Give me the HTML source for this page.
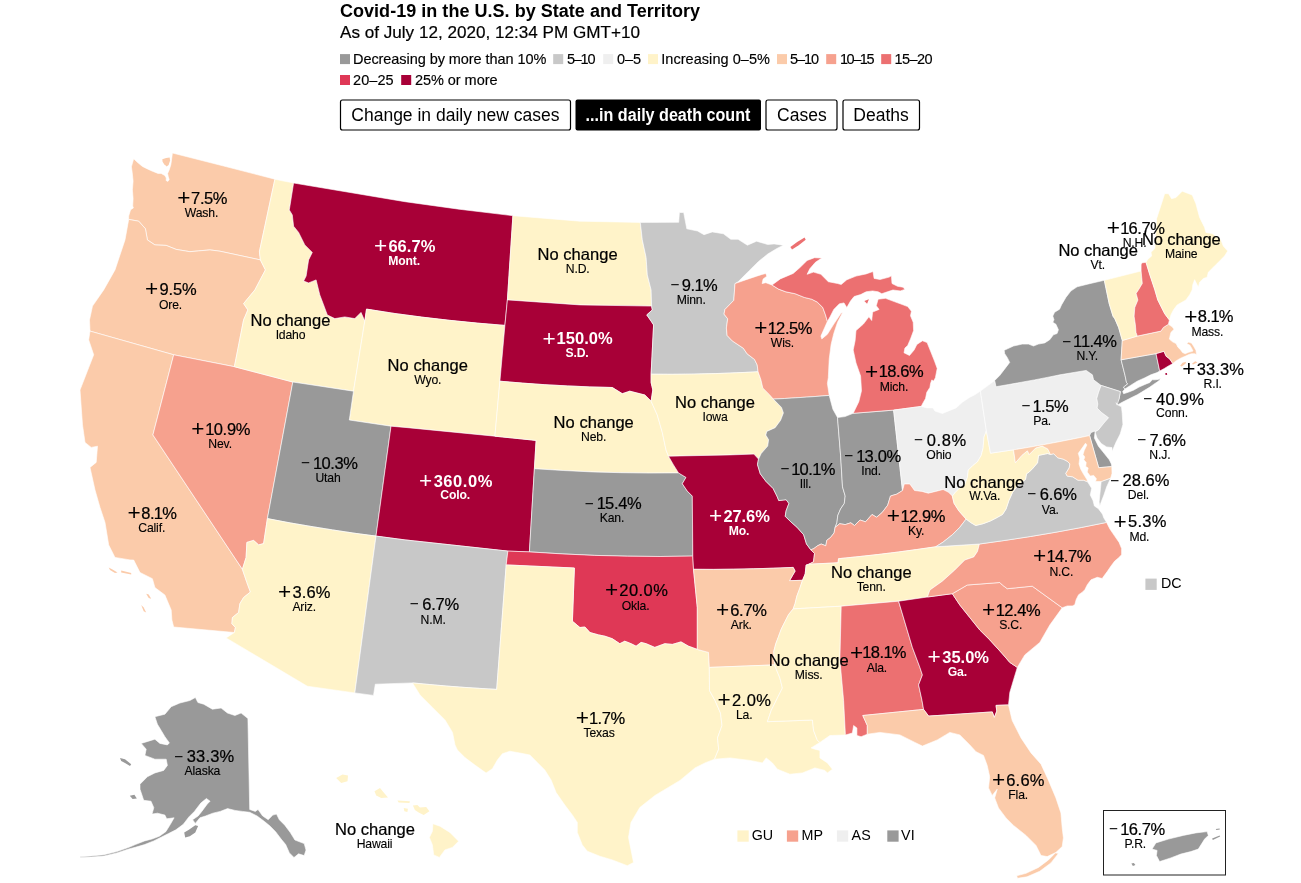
<!DOCTYPE html>
<html lang="en"><head><meta charset="utf-8"><title>Covid-19 in the U.S. by State and Territory</title>
<style>
html,body{margin:0;padding:0;background:#fff}
body{width:1301px;height:883px;position:relative;overflow:hidden}
svg{position:absolute;left:0;top:0;display:block}
text{font-family:"Liberation Sans",Arial,Helvetica,sans-serif;fill:#000}
.s{stroke:#fff;stroke-width:.6;stroke-linejoin:round}
.v{font-size:16.5px;stroke:#000;stroke-width:.22px}
.n{font-size:12.2px;letter-spacing:-.15px;stroke:#000;stroke-width:.12px}
.t{font-size:14.3px}
.w{fill:#fff;stroke:#fff}
.b{font-weight:700;stroke:none}
.sp{font-size:22.6px;stroke:none;font-weight:400}
.sm{font-size:15.4px;stroke:none;font-weight:400}
.h1{font-size:18px;font-weight:700}
.h2{font-size:17.1px;stroke:#000;stroke-width:.2px}
.lg{font-size:14.5px;stroke:#000;stroke-width:.15px}
.bt{font-size:17.5px}
.br{fill:#fff;stroke:#000;stroke-width:1.2}
</style></head><body>
<svg width="1301" height="883" viewBox="0 0 1301 883">
<g id="header">
<text class="h1" x="340" y="16.6" textLength="360" lengthAdjust="spacing">Covid-19 in the U.S. by State and Territory</text>
<text class="h2" x="340" y="38" textLength="300" lengthAdjust="spacing">As of July 12, 2020, 12:34 PM GMT+10</text>
<rect x="340.0" y="54.1" width="10" height="10" fill="#999999"/>
<text class="lg" x="353.0" y="63.8" textLength="193.3" lengthAdjust="spacing">Decreasing by more than 10%</text>
<rect x="553.2" y="54.1" width="10" height="10" fill="#c8c8c8"/>
<text class="lg" x="567.0" y="63.8" textLength="28.5" lengthAdjust="spacing">5–10</text>
<rect x="603.2" y="54.1" width="10" height="10" fill="#efefef"/>
<text class="lg" x="617.0" y="63.8" textLength="24.2" lengthAdjust="spacing">0–5</text>
<rect x="648.0" y="54.1" width="10" height="10" fill="#fff3c9"/>
<text class="lg" x="661.2" y="63.8" textLength="108.8" lengthAdjust="spacing">Increasing 0–5%</text>
<rect x="777.0" y="54.1" width="10" height="10" fill="#fbcbaa"/>
<text class="lg" x="790.0" y="63.8" textLength="29.2" lengthAdjust="spacing">5–10</text>
<rect x="826.2" y="54.1" width="10" height="10" fill="#f6a18e"/>
<text class="lg" x="840.0" y="63.8" textLength="34.5" lengthAdjust="spacing">10–15</text>
<rect x="881.2" y="54.1" width="10" height="10" fill="#ec7071"/>
<text class="lg" x="894.5" y="63.8" textLength="38.0" lengthAdjust="spacing">15–20</text>
<rect x="340.0" y="75.0" width="10" height="10" fill="#df3856"/>
<text class="lg" x="353.0" y="84.7" textLength="40.7" lengthAdjust="spacing">20–25</text>
<rect x="401.2" y="75.0" width="10" height="10" fill="#a80037"/>
<text class="lg" x="415.0" y="84.7" textLength="82.5" lengthAdjust="spacing">25% or more</text>
<rect class="br" x="340.5" y="100" width="230" height="30" rx="2"/>
<text class="bt" x="351.3" y="120.5" textLength="208.2" lengthAdjust="spacing">Change in daily new cases</text>
<rect x="575.5" y="99.5" width="185.5" height="31" rx="2" fill="#000"/>
<text class="bt b w" x="585.6" y="120.5" textLength="164.8" lengthAdjust="spacingAndGlyphs" style="stroke:none">...in daily death count</text>
<rect class="br" x="766" y="100" width="71" height="30" rx="2"/>
<text class="bt" x="777" y="120.5" textLength="49.8" lengthAdjust="spacing">Cases</text>
<rect class="br" x="843" y="100" width="76.5" height="30" rx="2"/>
<text class="bt" x="853.3" y="120.5" textLength="55.5" lengthAdjust="spacing">Deaths</text>
</g>
<g id="map">
<path class="s" fill="#fbcbaa" d="M128.7,219.4L128.7,216.0L130.6,209.8L133.4,207.9L132.7,206.0L133.1,198.6L132.4,189.8L133.1,181.1L132.2,172.4L131.4,166.8L133.7,158.7L136.8,161.8L142.4,166.4L147.4,168.9L152.4,171.2L158.0,173.4L161.1,173.4L164.8,175.5L166.3,178.0L166.1,180.5L167.9,181.4L169.2,179.6L168.3,176.8L167.6,173.6L169.2,169.9L170.8,164.9L171.7,158.7L172.4,153.0L223.6,166.0L274.9,179.2L259.4,251.7L260.4,259.9L219.9,251.2L209.9,249.9L189.9,251.7L176.2,249.4L166.2,245.4L154.9,244.9L147.4,239.9L145.4,228.7L138.7,221.2Z"/>
<path class="s" fill="#fbcbaa" d="M90.0,331.1L89.5,319.9L92.5,306.1L103.7,289.9L115.0,269.9L125.0,239.9L128.7,219.4L138.7,221.2L145.4,228.7L147.4,239.9L154.9,244.9L166.2,245.4L176.2,249.4L189.9,251.7L209.9,249.9L219.9,251.2L260.4,259.9L265.4,269.9L254.9,289.9L243.6,303.6L247.9,309.9L243.6,319.9L234.4,366.7L173.7,354.8Z"/>
<path class="s" fill="#fbcbaa" d="M173.7,627.0L171.9,620.0L171.2,610.0L164.9,595.0L154.9,587.5L152.4,578.7L140.0,572.5L133.7,560.0L130.0,559.9L115.0,557.4L108.7,544.9L105.0,522.4L100.0,507.4L95.0,489.9L90.0,467.4L96.2,462.4L97.5,446.2L91.2,447.4L85.0,442.4L82.5,424.9L80.0,390.0L93.7,354.8L88.7,339.9L90.0,331.1L173.7,354.8L152.9,434.9L242.4,569.3L246.9,582.5L250.4,592.0L243.6,597.5L239.9,603.7L238.6,612.5L232.4,617.5L231.9,623.7L235.4,627.5L234.4,632.5Z"/>
<path class="s" fill="#f6a18e" d="M173.7,354.8L234.4,366.7L292.8,382.0L267.4,518.6L263.6,543.6L258.6,544.9L253.6,540.4L246.9,542.4L246.1,557.4L242.4,569.3L152.9,434.9Z"/>
<path class="s" fill="#fff3c9" d="M274.9,179.2L278.6,180.0L282.3,180.8L286.1,181.5L289.8,182.2L293.6,183.0L289.3,209.9L292.3,214.9L293.6,226.2L298.6,232.4L304.8,244.9L312.3,252.4L308.6,259.9L306.1,276.1L303.6,281.1L308.6,282.9L316.1,279.9L319.8,294.9L323.6,304.9L327.3,314.9L334.8,318.6L344.8,316.9L354.8,318.6L361.0,312.4L364.8,321.1L353.5,391.2L292.8,382.0L234.4,366.7L243.6,319.9L247.9,309.9L243.6,303.6L254.9,289.9L265.4,269.9L260.4,259.9L259.4,251.7Z"/>
<path class="s" fill="#a80037" d="M293.6,183.0L405.0,201.7L459.0,209.2L512.9,215.7L507.4,299.9L504.9,325.4L477.1,323.1L449.4,320.3L421.7,317.1L394.1,313.4L366.5,309.1L364.8,321.1L361.0,312.4L354.8,318.6L344.8,316.9L334.8,318.6L327.3,314.9L323.6,304.9L319.8,294.9L316.1,279.9L308.6,282.9L303.6,281.1L306.1,276.1L308.6,259.9L312.3,252.4L304.8,244.9L298.6,232.4L293.6,226.2L292.3,214.9L289.3,209.9Z"/>
<path class="s" fill="#fff3c9" d="M364.8,321.1L366.5,309.1L394.1,313.4L421.7,317.1L449.4,320.3L477.1,323.1L504.9,325.4L499.9,381.2L494.9,436.2L405.0,427.4L391.0,426.2L349.3,420.0L353.5,391.2Z"/>
<path class="s" fill="#999999" d="M292.8,382.0L353.5,391.2L349.3,420.0L391.0,426.2L376.0,536.1L354.2,533.2L332.4,529.9L310.7,526.4L289.0,522.7L267.4,518.6Z"/>
<path class="s" fill="#a80037" d="M391.0,426.2L405.0,427.4L494.9,436.2L536.1,440.4L534.4,468.7L529.4,551.9L507.9,551.1L405.0,539.9L376.0,536.1Z"/>
<path class="s" fill="#fff3c9" d="M267.4,518.6L289.0,522.7L310.7,526.4L332.4,529.9L354.2,533.2L376.0,536.1L354.8,692.9L307.3,686.2L226.1,637.9L234.4,632.5L235.4,627.5L231.9,623.7L232.4,617.5L238.6,612.5L239.9,603.7L243.6,597.5L250.4,592.0L246.9,582.5L242.4,569.3L246.1,557.4L246.9,542.4L253.6,540.4L258.6,544.9L263.6,543.6Z"/>
<path class="s" fill="#c8c8c8" d="M376.0,536.1L405.0,539.9L507.9,551.1L506.2,564.9L496.7,689.4L479.8,688.4L463.0,687.3L446.1,686.0L429.3,684.5L412.5,682.9L375.3,684.2L373.5,695.4L354.8,692.9Z"/>
<path class="s" fill="#fff3c9" d="M512.9,215.7L579.9,221.2L640.3,222.4L642.3,239.9L646.1,257.4L647.3,274.9L651.1,289.9L651.6,306.1L579.9,304.9L507.4,299.9Z"/>
<path class="s" fill="#a80037" d="M507.4,299.9L579.9,304.9L651.6,306.1L652.3,309.9L646.8,314.9L651.1,321.1L653.6,324.9L651.1,374.2L651.1,382.5L652.8,390.0L651.1,401.2L644.8,395.0L629.8,391.2L622.3,393.7L612.3,387.5L589.8,386.9L567.3,385.9L544.8,384.7L522.4,383.1L499.9,381.2L504.9,325.4Z"/>
<path class="s" fill="#fff3c9" d="M499.9,381.2L522.4,383.1L544.8,384.7L567.3,385.9L589.8,386.9L612.3,387.5L622.3,393.7L629.8,391.2L644.8,395.0L651.1,401.2L657.3,415.0L662.3,432.4L666.0,449.9L668.5,456.2L673.5,464.9L678.5,472.9L649.7,473.1L620.8,472.7L592.0,471.9L563.2,470.5L534.4,468.7L536.1,440.4L494.9,436.2Z"/>
<path class="s" fill="#999999" d="M534.4,468.7L563.2,470.5L592.0,471.9L620.8,472.7L649.7,473.1L678.5,472.9L686.0,477.4L682.3,483.7L687.3,491.1L692.3,496.1L692.8,556.1L660.1,556.5L627.4,556.2L594.7,555.4L562.0,553.9L529.4,551.9Z"/>
<path class="s" fill="#df3856" d="M507.9,551.1L529.4,551.9L562.0,553.9L594.7,555.4L627.4,556.2L660.1,556.5L692.8,556.1L693.5,569.3L697.3,607.5L697.3,649.4L688.5,646.2L681.0,641.9L672.3,644.4L664.8,643.7L654.8,647.4L646.1,643.7L641.1,642.4L636.1,646.2L631.1,643.7L624.8,641.2L619.8,643.7L612.3,638.7L604.9,636.2L598.6,634.9L589.9,632.5L584.9,627.0L579.9,627.5L572.4,621.2L574.4,568.0L506.2,564.9Z"/>
<path class="s" fill="#fff3c9" d="M506.2,564.9L574.4,568.0L572.4,621.2L579.9,627.5L584.9,627.0L589.9,632.5L598.6,634.9L604.9,636.2L612.3,638.7L619.8,643.7L624.8,641.2L631.1,643.7L636.1,646.2L641.1,642.4L646.1,643.7L654.8,647.4L664.8,643.7L672.3,644.4L681.0,641.9L688.5,646.2L697.3,649.4L708.5,652.4L709.3,667.4L709.5,690.5L715.0,700.5L720.5,713.0L722.0,725.5L717.5,737.9L718.7,749.2L714.5,759.2L705.0,762.9L695.0,767.9L680.0,780.4L655.0,795.4L639.8,807.5L631.0,822.4L628.5,837.4L631.0,849.9L633.5,862.4L627.3,865.7L612.3,859.9L599.8,856.2L587.3,851.2L582.3,844.9L577.3,832.4L577.3,822.4L572.3,814.9L564.8,805.0L556.1,792.5L551.1,780.0L544.8,770.0L537.3,762.5L529.9,755.0L519.9,753.0L509.9,751.2L502.4,753.7L497.4,760.0L492.4,768.7L486.1,773.0L474.9,765.0L464.9,757.5L457.4,750.0L455.0,744.9L452.5,732.4L445.0,719.9L432.5,707.4L420.0,694.9L412.5,682.9L429.3,684.5L446.1,686.0L463.0,687.3L479.8,688.4L496.7,689.4Z"/>
<path class="s" fill="#c8c8c8" d="M640.3,222.4L678.7,222.3L679.4,212.5L683.7,212.5L686.8,228.8L697.5,231.0L704.0,234.7L712.3,231.9L723.4,233.8L730.8,239.3L738.1,239.3L747.4,245.2L756.6,241.2L767.7,244.5L774.1,243.9L783.4,245.2L776.9,248.5L767.7,254.1L758.5,261.5L749.2,270.7L741.8,278.1L738.1,281.8L735.0,283.6L733.8,300.3L724.9,309.5L724.0,314.1L727.7,318.8L726.4,328.0L727.1,335.4L732.3,340.9L743.4,348.3L747.1,353.8L754.5,359.4L757.2,364.9L758.1,371.8L736.8,372.8L715.3,373.6L693.9,374.1L672.5,374.3L651.1,374.2L653.6,324.9L651.1,321.1L646.8,314.9L652.3,309.9L651.6,306.1L651.1,289.9L647.3,274.9L646.1,257.4L642.3,239.9Z"/>
<path class="s" fill="#fff3c9" d="M651.1,374.2L672.5,374.3L693.9,374.1L715.3,373.6L736.8,372.8L758.1,371.8L760.9,379.7L762.8,388.0L769.2,394.4L773.3,399.1L781.5,407.4L783.4,412.9L780.6,420.3L775.1,427.7L766.8,431.4L765.8,435.1L768.6,439.7L767.7,446.1L761.2,453.5L758.5,459.1L753.9,454.1L730.0,454.9L668.5,456.2L666.0,449.9L662.3,432.4L657.3,415.0L651.1,401.2L652.8,390.0L651.1,382.5Z"/>
<path class="s" fill="#a80037" d="M668.5,456.2L730.0,454.9L753.9,454.1L758.5,459.1L757.5,464.6L760.3,473.8L765.8,481.2L773.2,488.6L776.9,496.0L778.8,500.6L786.1,499.7L788.9,503.4L786.1,510.8L785.2,516.3L790.8,521.8L797.2,527.4L803.7,534.8L806.5,544.0L810.8,549.8L814.5,553.5L813.5,561.8L808.9,564.2L806.1,565.0L805.2,573.8L802.5,580.3L789.5,580.7L795.1,571.1L793.2,567.4L773.3,568.2L753.4,568.8L733.4,569.2L713.5,569.4L693.5,569.3L692.8,556.1L692.3,496.1L687.3,491.1L682.3,483.7L686.0,477.4L678.5,472.9L673.5,464.9Z"/>
<path class="s" fill="#fbcbaa" d="M693.5,569.3L713.5,569.4L733.4,569.2L753.4,568.8L773.3,568.2L793.2,567.4L795.1,571.1L789.5,580.7L802.5,580.3L799.7,588.6L796.9,596.0L795.1,603.4L793.2,608.9L788.6,614.5L784.9,621.8L781.2,629.2L778.5,636.6L775.7,644.0L773.8,651.4L774.5,664.9L709.3,667.4L708.5,652.4L697.3,649.4L697.3,607.5Z"/>
<path class="s" fill="#fff3c9" d="M709.3,667.4L774.5,664.9L779.9,678.0L782.4,688.0L777.4,698.0L771.2,710.5L767.4,721.7L812.4,720.0L813.6,730.5L817.4,740.4L819.9,742.4L811.1,747.9L814.9,749.2L819.9,750.4L819.9,757.9L827.4,762.9L832.4,769.2L827.4,772.9L824.9,770.4L814.9,767.9L802.4,772.9L789.9,774.2L777.4,769.2L772.4,762.9L766.2,757.9L762.4,762.9L749.9,760.4L729.9,757.9L714.5,759.2L718.7,749.2L717.5,737.9L722.0,725.5L720.5,713.0L715.0,700.5L709.5,690.5Z"/>
<path class="s" fill="#f6a18e" d="M735.0,283.6L745.5,279.9L756.6,276.2L762.1,274.4L765.8,273.5L766.8,276.2L763.1,279.0L762.1,283.6L765.8,282.7L772.0,285.0L778.5,289.1L785.8,291.8L795.1,293.7L804.3,297.4L811.7,299.2L817.2,302.0L822.8,307.5L825.5,314.9L827.4,321.4L824.6,327.8L820.9,336.1L821.8,338.9L827.4,334.3L833.8,324.1L841.2,313.1L842.5,312.7L837.5,322.3L833.8,333.4L831.1,344.4L829.2,359.2L828.3,377.7L827.4,383.4L829.2,395.4L818.0,396.3L806.9,397.1L795.7,397.8L784.5,398.5L773.3,399.1L769.2,394.4L762.8,388.0L760.9,379.7L758.1,371.8L757.2,364.9L754.5,359.4L747.1,353.8L743.4,348.3L732.3,340.9L727.1,335.4L726.4,328.0L727.7,318.8L724.0,314.1L724.9,309.5L733.8,300.3Z"/>
<path class="s" fill="#999999" d="M773.3,399.1L784.5,398.5L795.7,397.8L806.9,397.1L818.0,396.3L829.2,395.4L832.9,409.2L837.5,417.5L840.6,455.4L842.5,486.8L845.2,496.0L844.3,503.4L840.6,508.9L837.8,515.4L836.9,522.8L835.1,527.4L834.1,532.9L830.5,537.5L826.8,540.3L825.8,545.8L821.2,544.0L817.5,545.8L813.8,548.6L810.8,549.8L806.5,544.0L803.7,534.8L797.2,527.4L790.8,521.8L785.2,516.3L786.1,510.8L788.9,503.4L786.1,499.7L778.8,500.6L776.9,496.0L773.2,488.6L765.8,481.2L760.3,473.8L757.5,464.6L758.5,459.1L761.2,453.5L767.7,446.1L768.6,439.7L765.8,435.1L766.8,431.4L775.1,427.7L780.6,420.3L783.4,412.9L781.5,407.4Z"/>
<path class="s" fill="#999999" d="M837.5,417.5L844.9,416.6L853.2,413.3L893.6,410.1L902.5,490.5L896.9,494.1L890.5,496.0L887.7,505.2L882.1,512.6L876.6,517.2L872.0,514.5L865.5,521.8L860.0,520.0L854.5,525.5L850.8,522.8L845.2,524.6L839.7,523.7L835.1,527.4L836.9,522.8L837.8,515.4L840.6,508.9L844.3,503.4L845.2,496.0L842.5,486.8L840.6,455.4Z"/>
<path class="s" fill="#ec7071" d="M772.0,285.0L780.3,278.9L793.2,273.4L799.7,267.8L807.1,260.5L814.5,257.7L821.8,258.1L815.4,262.3L809.8,268.8L807.1,274.3L813.5,272.1L820.9,274.3L828.3,281.7L837.5,283.5L841.2,284.5L846.8,279.8L856.0,276.1L866.1,273.9L873.0,271.5L874.1,278.4L880.0,279.5L889.2,277.1L891.4,275.8L892.0,283.5L897.5,286.3L903.1,287.2L904.9,289.4L900.3,290.9L892.9,290.0L887.4,291.8L881.8,293.7L878.1,291.8L872.6,290.9L866.1,291.8L860.6,294.6L854.1,296.5L850.5,301.1L846.8,307.5L844.0,302.9L839.4,303.8L833.8,309.4L830.1,316.8L827.4,321.4L825.5,314.9L822.8,307.5L817.2,302.0L811.7,299.2L804.3,297.4L795.1,293.7L785.8,291.8L778.5,289.1ZM853.2,413.3L858.8,401.8L861.5,390.8L860.6,376.0L856.0,362.9L853.2,350.0L855.1,340.8L856.0,330.6L863.4,324.1L868.9,316.8L871.7,320.5L872.6,312.1L879.1,309.4L876.3,305.7L878.1,299.2L885.5,298.3L892.9,301.1L900.3,303.8L907.7,306.6L911.4,311.2L910.5,315.8L913.2,322.3L913.6,330.6L910.5,338.9L907.7,345.4L904.9,348.1L904.0,352.8L909.5,355.5L914.1,350.0L916.9,344.4L922.5,340.8L927.1,342.6L930.8,351.8L934.5,361.1L937.2,368.4L935.4,377.7L933.6,381.1L931.8,379.9L930.5,383.6L929.9,387.4L926.8,392.3L925.5,398.6L923.0,402.9L921.2,406.4L893.6,410.1Z"/>
<path class="s" fill="#efefef" d="M893.6,410.1L921.2,406.4L926.8,407.9L933.0,407.9L934.9,411.0L942.4,413.5L949.8,410.4L956.1,407.9L962.3,402.3L969.8,397.3L974.8,394.8L980.4,391.1L986.4,431.0L984.0,436.9L983.1,448.0L981.2,455.4L977.5,461.8L972.9,465.5L968.3,470.1L967.4,477.5L964.6,484.9L959.1,488.6L955.4,492.3L952.3,496.0L948.6,492.3L943.1,489.5L935.7,491.4L928.3,493.2L921.8,491.4L914.5,490.5L909.8,484.0L904.3,484.0L902.5,490.5Z"/>
<path class="s" fill="#f6a18e" d="M835.1,527.4L839.7,523.7L845.2,524.6L850.8,522.8L854.5,525.5L860.0,520.0L865.5,521.8L872.0,514.5L876.6,517.2L882.1,512.6L887.7,505.2L890.5,496.0L896.9,494.1L902.5,490.5L904.3,484.0L909.8,484.0L914.5,490.5L921.8,491.4L928.3,493.2L935.7,491.4L943.1,489.5L948.6,492.3L952.3,496.0L954.1,503.4L958.8,510.8L966.1,519.1L959.7,527.4L952.3,534.8L943.1,542.1L935.7,546.8L916.3,549.6L896.9,552.2L877.4,554.6L858.0,556.7L838.5,558.7L838.1,562.8L808.9,564.2L813.5,561.8L814.5,553.5L810.8,549.8L813.8,548.6L817.5,545.8L821.2,544.0L825.8,545.8L826.8,540.3L830.5,537.5L834.1,532.9Z"/>
<path class="s" fill="#fff3c9" d="M935.7,546.8L916.3,549.6L896.9,552.2L877.4,554.6L858.0,556.7L838.5,558.7L838.1,562.8L808.9,564.2L806.1,565.0L805.2,573.8L802.5,580.3L799.7,588.6L796.9,596.0L795.1,603.4L793.2,608.9L841.2,606.2L898.6,601.2L927.4,597.0L929.9,590.0L942.3,581.2L954.8,570.0L964.8,560.0L973.8,556.9L977.5,551.4L979.4,544.0Z"/>
<path class="s" fill="#fff3c9" d="M793.2,608.9L841.2,606.2L839.9,659.9L843.6,700.5L845.4,735.0L829.9,735.5L819.9,742.4L817.4,740.4L813.6,730.5L812.4,720.0L767.4,721.7L771.2,710.5L777.4,698.0L782.4,688.0L779.9,678.0L774.5,664.9L773.8,651.4L775.7,644.0L778.5,636.6L781.2,629.2L784.9,621.8L788.6,614.5Z"/>
<path class="s" fill="#ec7071" d="M841.2,606.2L898.6,601.2L912.4,647.4L919.9,667.4L922.4,674.9L918.6,684.9L921.9,699.9L923.6,709.4L862.8,715.5L867.3,725.5L867.3,734.2L861.1,736.7L856.9,735.5L856.9,728.0L853.6,725.5L852.4,733.0L845.4,735.0L843.6,700.5L839.9,659.9Z"/>
<path class="s" fill="#a80037" d="M898.6,601.2L927.4,597.0L952.3,593.7L959.8,605.0L969.8,617.5L979.8,630.0L989.8,639.9L1002.3,653.7L1009.8,662.4L1017.3,667.4L1013.5,679.9L1009.8,692.4L1008.5,704.9L996.0,705.4L996.8,711.1L994.3,717.4L992.3,711.9L928.6,716.1L923.6,709.4L921.9,699.9L918.6,684.9L922.4,674.9L919.9,667.4L912.4,647.4Z"/>
<path class="s" fill="#fbcbaa" d="M923.6,709.4L928.6,716.1L992.3,711.9L994.3,717.4L996.8,711.1L996.0,705.4L1008.5,704.9L1012.2,720.5L1021.0,737.9L1031.0,752.9L1041.0,764.2L1048.5,780.4L1055.9,797.9L1060.9,812.9L1062.2,827.9L1063.4,837.9L1062.2,846.6L1055.9,852.4L1047.2,856.6L1041.0,855.4L1036.0,845.4L1026.0,835.4L1013.5,825.4L1006.0,817.9L998.5,807.9L994.7,797.9L997.2,789.2L992.2,795.4L988.5,787.9L989.7,776.7L987.2,765.4L983.5,755.4L976.0,751.7L969.8,744.9L959.8,734.9L949.8,732.4L937.3,739.9L922.4,746.1L914.9,742.4L899.9,734.9L879.9,732.4L867.3,734.2L867.3,725.5L862.8,715.5Z"/>
<path class="s" fill="#f6a18e" d="M952.3,593.7L967.3,585.0L999.8,582.5L1002.3,585.0L1007.3,588.7L1032.3,586.2L1062.2,607.8L1049.8,625.0L1039.8,642.4L1024.8,654.9L1017.3,667.4L1009.8,662.4L1002.3,653.7L989.8,639.9L979.8,630.0L969.8,617.5L959.8,605.0Z"/>
<path class="s" fill="#f6a18e" d="M979.4,544.0L1005.0,540.4L1030.5,536.5L1055.9,532.2L1081.3,527.5L1106.6,522.4L1109.7,528.7L1114.7,536.1L1119.1,542.4L1121.6,548.6L1121.6,554.8L1118.4,557.9L1114.7,561.1L1111.0,566.0L1107.2,571.6L1103.5,576.6L1102.2,578.5L1097.3,577.3L1091.0,579.8L1087.3,584.7L1084.8,589.7L1082.3,592.2L1078.6,594.7L1076.1,599.7L1074.8,604.7L1072.3,605.9L1067.3,605.9L1062.2,607.8L1032.3,586.2L1007.3,588.7L1002.3,585.0L999.8,582.5L967.3,585.0L952.3,593.7L927.4,597.0L929.9,590.0L942.3,581.2L954.8,570.0L964.8,560.0L973.8,556.9L977.5,551.4Z"/>
<path class="s" fill="#c8c8c8" d="M979.4,544.0L1005.0,540.4L1030.5,536.5L1055.9,532.2L1081.3,527.5L1106.6,522.4L1103.7,517.7L1102.5,514.2L1098.4,508.7L1094.4,506.0L1093.0,500.6L1090.3,495.1L1091.6,488.3L1087.6,481.8L1083.5,480.2L1078.0,480.2L1072.6,476.8L1067.2,476.1L1065.8,473.4L1069.2,467.9L1069.9,463.9L1067.2,461.2L1063.1,459.1L1057.7,457.8L1053.6,453.7L1050.5,454.5L1047.7,453.5L1038.5,455.4L1037.5,462.8L1032.9,468.3L1029.2,472.0L1026.5,473.8L1025.5,479.4L1018.1,484.9L1012.6,492.3L1008.9,500.6L1006.1,508.9L1002.5,514.5L996.0,518.1L990.5,520.9L983.1,523.7L975.7,525.5L971.1,522.8L966.1,519.1L959.7,527.4L952.3,534.8L943.1,542.1L935.7,546.8ZM1110.7,478.1L1106.6,487.0L1103.9,495.1L1101.2,501.9L1099.8,506.0L1099.1,501.9L1099.8,495.1L1100.5,488.3L1101.2,481.5Z"/>
<path class="s" fill="#fff3c9" d="M986.4,431.0L984.0,436.9L983.1,448.0L981.2,455.4L977.5,461.8L972.9,465.5L968.3,470.1L967.4,477.5L964.6,484.9L959.1,488.6L955.4,492.3L952.3,496.0L954.1,503.4L958.8,510.8L966.1,519.1L971.1,522.8L975.7,525.5L983.1,523.7L990.5,520.9L996.0,518.1L1002.5,514.5L1006.1,508.9L1008.9,500.6L1012.6,492.3L1018.1,484.9L1025.5,479.4L1026.5,473.8L1029.2,472.0L1032.9,468.3L1037.5,462.8L1038.5,455.4L1047.7,453.5L1050.5,454.5L1047.7,448.9L1042.2,446.1L1035.7,448.0L1029.2,454.5L1027.4,450.8L1021.8,455.4L1015.4,462.8L1013.5,449.8L990.5,453.2Z"/>
<path class="s" fill="#efefef" d="M980.4,391.1L987.2,386.1L994.7,380.5L996.0,386.7L1008.8,384.5L1021.6,382.2L1034.4,379.9L1047.2,377.4L1060.0,374.8L1086.2,370.4L1092.4,374.8L1093.6,379.8L1101.1,385.4L1098.6,392.2L1096.8,398.4L1097.8,404.1L1097.1,408.1L1101.2,412.2L1108.6,417.7L1103.9,423.1L1098.4,429.9L1095.0,431.9L1094.4,431.3L1091.0,432.6L1089.6,435.6L1074.5,438.7L1059.3,441.7L1044.0,444.6L1028.8,447.3L1013.5,449.8L990.5,453.2L986.4,431.0Z"/>
<path class="s" fill="#999999" d="M994.7,380.5L999.7,375.5L1005.9,367.4L1009.7,362.4L1007.2,357.4L1004.7,353.7L1004.2,350.3L1013.5,346.0L1022.2,344.1L1028.5,344.1L1033.5,346.0L1038.4,344.1L1044.7,342.9L1049.7,339.8L1053.4,334.8L1057.1,333.5L1058.4,329.8L1055.9,324.2L1052.8,322.3L1054.0,319.8L1052.8,316.1L1054.6,312.3L1059.6,309.2L1061.5,304.9L1065.9,297.4L1070.8,291.1L1077.1,286.8L1089.5,283.7L1104.3,280.3L1109.2,303.7L1113.0,316.2L1114.8,318.7L1118.6,327.4L1122.3,340.5L1121.1,359.8L1125.0,375.3L1126.5,382.5L1127.7,383.9L1123.6,387.1L1124.8,389.1L1122.7,391.6L1123.6,393.7L1128.1,392.3L1133.5,390.2L1139.0,387.1L1146.2,383.9L1149.9,382.5L1152.1,379.8L1155.3,379.8L1158.0,379.4L1160.5,378.5L1159.4,380.3L1157.1,382.1L1153.5,384.4L1149.9,387.1L1146.2,389.3L1141.7,392.1L1137.2,394.8L1132.6,397.0L1128.1,399.3L1122.7,402.0L1118.2,404.5L1116.3,405.6L1117.2,402.5L1119.1,398.8L1120.4,391.6L1101.1,385.4L1093.6,379.8L1092.4,374.8L1086.2,370.4L1060.0,374.8L1047.2,377.4L1034.4,379.9L1021.6,382.2L1008.8,384.5L996.0,386.7Z"/>
<path class="s" fill="#c8c8c8" d="M1101.1,385.4L1120.4,391.6L1119.1,398.8L1117.1,405.2L1116.1,402.7L1117.5,404.8L1121.5,406.8L1122.2,413.6L1122.9,424.5L1120.2,434.0L1116.1,442.1L1112.0,451.6L1112.0,447.6L1106.6,446.9L1101.2,443.5L1097.1,438.1L1095.0,431.9L1098.4,429.9L1103.9,423.1L1108.6,417.7L1101.2,412.2L1097.1,408.1L1097.8,404.1L1096.8,398.4L1098.6,392.2Z"/>
<path class="s" fill="#999999" d="M1095.0,431.9L1094.4,431.3L1091.0,432.6L1089.6,435.6L1098.7,467.7L1111.8,466.6L1111.3,463.9L1109.3,459.8L1103.9,453.0L1098.4,446.2L1094.4,438.1Z"/>
<path class="s" fill="#fbcbaa" d="M1013.5,449.8L1028.8,447.3L1044.0,444.6L1059.3,441.7L1074.5,438.7L1089.6,435.6L1098.7,467.7L1111.8,466.6L1112.0,473.4L1110.7,478.1L1101.2,481.5L1095.5,481.5L1096.4,478.8L1093.7,475.4L1090.3,476.1L1087.2,472.0L1088.2,467.9L1085.7,466.6L1086.2,462.5L1083.8,459.8L1084.8,457.1L1083.0,454.4L1084.3,450.3L1086.9,444.9L1085.5,443.2L1081.0,449.6L1078.3,453.3L1079.7,458.4L1079.0,463.9L1080.8,469.3L1083.5,474.1L1086.9,479.5L1087.6,481.8L1083.5,480.2L1078.0,480.2L1072.6,476.8L1067.2,476.1L1065.8,473.4L1069.2,467.9L1069.9,463.9L1067.2,461.2L1063.1,459.1L1057.7,457.8L1053.6,453.7L1050.5,454.5L1047.7,448.9L1042.2,446.1L1035.7,448.0L1029.2,454.5L1027.4,450.8L1021.8,455.4L1015.4,462.8Z"/>
<path class="s" fill="#999999" d="M1121.1,359.8L1125.0,375.3L1126.5,382.5L1127.7,383.9L1123.6,387.1L1124.8,389.1L1130.8,385.2L1137.2,381.2L1144.4,378.0L1150.8,374.8L1157.1,372.6L1159.7,371.0L1156.0,353.6Z"/>
<path class="s" fill="#a80037" d="M1156.0,353.6L1159.7,371.0L1164.3,368.5L1168.0,366.2L1172.8,363.6L1169.8,359.0L1166.2,356.3L1163.9,351.3Z"/>
<path class="s" fill="#fbcbaa" d="M1122.3,340.5L1121.1,359.8L1156.0,353.6L1163.9,351.3L1166.2,356.3L1169.8,359.0L1172.8,363.6L1175.2,361.5L1178.8,359.2L1181.6,357.7L1185.2,356.3L1188.8,354.6L1191.5,353.7L1194.7,353.7L1196.6,354.5L1195.9,350.3L1193.9,346.7L1191.7,343.3L1188.6,342.0L1186.8,343.8L1189.7,345.0L1191.5,347.9L1193.0,351.0L1191.5,351.6L1188.8,352.2L1185.2,353.7L1182.5,352.6L1180.7,349.9L1177.9,347.2L1176.1,343.6L1172.5,341.8L1169.3,339.1L1169.7,337.4L1170.9,332.4L1174.0,329.3L1172.2,326.8L1168.4,324.3L1163.4,327.4L1160.9,331.1L1137.3,336.1Z"/>
<path class="s" fill="#fff3c9" d="M1104.3,280.3L1141.1,271.0L1141.7,277.2L1142.3,283.5L1138.6,289.7L1136.1,293.4L1137.9,300.0L1134.8,307.5L1134.1,316.2L1135.4,324.9L1136.0,332.4L1137.3,336.1L1122.3,340.5L1118.6,327.4L1114.8,318.7L1113.0,316.2L1109.2,303.7Z"/>
<path class="s" fill="#ec7071" d="M1141.1,271.0L1141.1,264.8L1141.7,262.9L1146.0,262.3L1149.8,274.7L1154.8,289.7L1157.8,300.0L1160.9,306.2L1164.7,313.7L1168.4,318.7L1169.4,319.9L1168.4,324.3L1163.4,327.4L1160.9,331.1L1137.3,336.1L1136.0,332.4L1135.4,324.9L1134.1,316.2L1134.8,307.5L1137.9,300.0L1136.1,293.4L1138.6,289.7L1142.3,283.5L1141.7,277.2Z"/>
<path class="s" fill="#fff3c9" d="M1146.0,262.3L1147.9,259.2L1151.7,256.0L1151.0,252.3L1154.8,248.6L1156.6,218.7L1164.7,193.7L1168.5,193.7L1171.6,198.7L1176.0,197.5L1182.2,191.2L1192.2,195.0L1195.9,203.7L1199.6,217.4L1204.6,227.4L1205.9,232.4L1212.1,233.6L1220.8,239.8L1223.3,246.1L1227.7,251.1L1224.5,256.0L1220.8,259.8L1217.1,263.5L1213.3,267.3L1208.3,272.2L1207.1,277.2L1203.4,278.5L1199.6,282.2L1198.4,287.2L1194.6,279.7L1192.8,284.7L1192.2,289.7L1189.7,294.7L1185.9,300.0L1177.1,305.0L1173.4,310.0L1170.9,314.9L1169.4,319.9L1168.4,318.7L1164.7,313.7L1160.9,306.2L1157.8,300.0L1154.8,289.7L1149.8,274.7Z"/>
<path class="s" fill="#999999" d="M154.9,716.7L164.9,714.2L171.2,706.7L179.9,703.0L189.9,700.5L195.4,697.5L197.9,702.5L203.7,704.2L212.4,709.2L221.1,708.0L227.4,713.0L234.9,715.5L241.1,713.0L247.9,718.5L249.7,809.5L255.3,811.4L258.0,809.5L262.7,816.0L268.2,819.7L272.8,815.1L276.5,814.1L279.3,819.7L284.8,825.2L290.3,832.6L294.9,840.0L304.2,843.6L306.0,850.1L304.2,855.6L298.6,853.8L294.0,857.5L289.4,852.9L285.7,844.6L281.1,839.0L275.6,831.7L270.0,826.1L264.5,821.5L257.1,816.0L249.7,812.3L242.4,811.4L235.0,810.4L227.6,808.6L220.2,811.4L212.8,813.2L205.5,816.0L199.9,817.8L195.3,823.4L192.6,819.7L198.1,816.0L201.8,811.4L207.3,804.0L210.1,801.2L206.4,798.5L200.8,803.1L194.4,811.4L188.9,816.9L183.3,824.3L175.9,829.8L168.6,833.5L161.2,837.2L153.8,840.9L144.6,844.6L135.3,847.3L128.0,849.2L116.9,852.9L104.0,856.0L91.1,857.1L80.0,857.5L80.0,856.8L91.1,856.0L104.0,854.7L116.9,851.6L128.9,847.3L135.3,844.6L144.6,840.9L152.0,839.0L159.3,836.3L165.8,831.7L170.4,824.3L174.1,817.8L166.7,818.8L164.9,815.1L157.5,813.2L152.0,814.1L153.8,807.7L151.0,801.2L143.7,800.3L140.0,789.2L140.0,784.2L147.4,776.7L154.9,772.9L163.7,770.4L167.4,765.4L166.2,759.2L154.9,759.2L144.9,755.4L146.2,749.2L141.2,743.4L154.9,739.2L159.9,743.4L167.4,744.9L169.4,742.9L164.9,736.7L161.2,730.5L157.4,724.2Z"/>
<path class="i" fill="#999999" d="M184.2,832.6L188.9,829.8L195.3,825.2L198.1,826.1L195.3,832.6L189.8,836.3L185.2,837.6Z"/>
<path class="i" fill="#999999" d="M120.0,757.9L125.0,759.2L131.2,764.2L130.0,765.9L125.0,762.9L121.2,760.9Z"/>
<path class="i" fill="#999999" d="M129.8,795.7L134.4,794.8L136.8,798.5L132.6,799.0Z"/>
<path class="i" fill="#fff3c9" d="M336.2,778.0L342.5,774.5L348.0,775.5L347.5,781.2L341.2,783.0Z"/>
<path class="i" fill="#fff3c9" d="M374.5,791.2L380.0,788.0L383.7,792.5L388.0,797.5L381.2,798.0L376.2,795.5Z"/>
<path class="i" fill="#fff3c9" d="M397.4,800.5L409.9,801.2L409.4,803.0L398.7,802.5Z"/>
<path class="i" fill="#fff3c9" d="M403.7,808.0L407.9,808.7L407.4,812.0L404.4,811.2Z"/>
<path class="i" fill="#fff3c9" d="M412.9,805.5L417.4,805.0L419.9,807.5L426.2,807.0L429.4,811.2L423.7,814.9L418.7,812.5L414.9,810.0Z"/>
<path class="s" fill="#fff3c9" d="M432.9,823.7L439.9,826.2L449.9,832.4L458.6,841.2L452.4,847.4L444.9,849.9L439.4,857.4L433.7,854.9L432.4,844.9L429.4,837.4L432.4,831.2Z"/>
<path class="s" fill="#999999" d="M1152.1,849.1L1155.9,842.9L1168.4,839.1L1183.3,835.4L1195.8,832.9L1207.1,831.6L1208.3,835.4L1204.6,839.1L1198.3,849.1L1190.8,851.6L1180.8,854.1L1170.8,857.9L1159.6,861.6L1156.4,855.4L1157.1,850.4Z"/>
<path class="i" fill="#999999" d="M1212.1,838.4L1219.6,835.4L1220.1,836.4L1212.8,839.9Z"/>
<path class="i" fill="#999999" d="M1215.8,829.1L1219.6,828.4L1219.8,829.6L1216.3,830.1Z"/>
<path class="i" fill="#999999" d="M1131.4,863.6L1133.9,862.9L1135.4,864.9L1132.9,866.1Z"/>
<path class="i" fill="#ec7071" d="M790.4,246.9L797.2,242.1L804.6,237.5L805.7,239.7L798.7,245.2L792.0,249.6Z"/>
<path class="i" fill="#ec7071" d="M864.3,301.1L868.9,299.2L867.1,303.8Z"/>
<path class="i" fill="#fbcbaa" d="M162.3,159.3L166.1,158.1L169.6,157.4L170.1,160.6L168.6,164.9L166.7,166.4L164.2,164.3L162.6,161.8Z"/>
<path class="i" fill="#fbcbaa" d="M108.7,567.5L112.5,569.5L117.5,572.5L115.0,573.0L110.0,570.0Z"/>
<path class="i" fill="#fbcbaa" d="M121.2,570.5L131.2,573.0L131.2,574.5L121.2,572.5Z"/>
<path class="i" fill="#fbcbaa" d="M146.2,593.7L148.7,594.5L151.2,598.7L148.7,598.0Z"/>
<path class="i" fill="#fbcbaa" d="M141.2,605.0L143.7,607.5L146.2,612.5L143.7,611.2Z"/>
<path class="i" fill="#fbcbaa" d="M1180.2,365.8L1182.5,362.8L1186.1,361.7L1185.4,363.7L1181.7,366.4Z"/>
<path class="i" fill="#fbcbaa" d="M1192.0,363.7L1195.1,361.3L1197.5,362.2L1195.7,363.2L1193.0,364.4Z"/>
<path class="i" fill="#a80037" d="M1165.2,373.3L1166.9,373.1L1167.2,374.8L1165.6,374.9Z"/>
<path class="s" fill="#fbcbaa" d="M1016.7,875.8L1026.0,873.3L1038.5,867.4L1048.5,859.9L1055.4,852.9L1058.4,853.4L1050.9,862.9L1039.7,871.3L1027.0,876.8L1017.5,878.3Z"/>
</g>
<g id="labels">
<text class="v" y="203.7"><tspan class="sp" x="177.2" dy="1.1">+</tspan><tspan x="191.11 199.89 204.07 212.85" dy="-1.1">7.5%</tspan></text>
<text class="n" x="201.5" y="216.5" text-anchor="middle">Wash.</text>
<text class="v" y="295.3"><tspan class="sp" x="145.1" dy="1.1">+</tspan><tspan x="159.44 168.53 173.02 182.11" dy="-1.1">9.5%</tspan></text>
<text class="n" x="170.5" y="308.5" text-anchor="middle">Ore.</text>
<text class="v" x="250.5" y="325.8" textLength="79.9" lengthAdjust="spacing">No change</text>
<text class="n" x="290.5" y="338.8" text-anchor="middle">Idaho</text>
<text class="v w b" y="251.7"><tspan class="sp" x="373.9" dy="1.1">+</tspan><tspan x="388.41 397.62 406.83 411.45 420.66" dy="-1.1">66.7%</tspan></text>
<text class="n w b" x="404.0" y="265.0" text-anchor="middle">Mont.</text>
<text class="v" x="537.4" y="260.0" textLength="80.4" lengthAdjust="spacing">No change</text>
<text class="n" x="577.7" y="273.0" text-anchor="middle">N.D.</text>
<text class="v w b" y="344.4"><tspan class="sp" x="542.5" dy="1.1">+</tspan><tspan x="556.58 565.65 574.90 584.15 588.81 598.06" dy="-1.1">150.0%</tspan></text>
<text class="n w b" x="577.0" y="357.4" text-anchor="middle">S.D.</text>
<text class="v" x="387.5" y="371.1" textLength="80.4" lengthAdjust="spacing">No change</text>
<text class="n" x="427.8" y="383.7" text-anchor="middle">Wyo.</text>
<text class="v" x="553.6" y="427.9" textLength="80.2" lengthAdjust="spacing">No change</text>
<text class="n" x="593.6" y="440.8" text-anchor="middle">Neb.</text>
<text class="v" y="290.5"><tspan class="sm" x="670.5" dy="-0.6">−</tspan><tspan x="681.82 690.59 694.48 702.90" dy="0.6">9.1%</tspan></text>
<text class="n" x="691.2" y="303.7" text-anchor="middle">Minn.</text>
<text class="v" y="333.5"><tspan class="sp" x="754.3" dy="1.1">+</tspan><tspan x="767.70 776.11 784.89 789.07 797.85" dy="-1.1">12.5%</tspan></text>
<text class="n" x="782.4" y="346.6" text-anchor="middle">Wis.</text>
<text class="v" y="377.4"><tspan class="sp" x="865.0" dy="1.1">+</tspan><tspan x="878.82 887.23 896.01 900.19 908.97" dy="-1.1">18.6%</tspan></text>
<text class="n" x="894.0" y="390.9" text-anchor="middle">Mich.</text>
<text class="v" x="675.0" y="408.3" textLength="79.9" lengthAdjust="spacing">No change</text>
<text class="n" x="715.0" y="421.3" text-anchor="middle">Iowa</text>
<text class="v" y="445.5"><tspan class="sm" x="914.1" dy="-0.6">−</tspan><tspan x="926.66 936.44 941.63 951.41" dy="0.6">0.8%</tspan></text>
<text class="n" x="938.9" y="458.7" text-anchor="middle">Ohio</text>
<text class="v" y="462.0"><tspan class="sm" x="844.2" dy="-0.6">−</tspan><tspan x="856.15 864.61 873.44 877.68 886.51" dy="0.6">13.0%</tspan></text>
<text class="n" x="871.1" y="474.9" text-anchor="middle">Ind.</text>
<text class="v" y="474.9"><tspan class="sm" x="780.5" dy="-0.6">−</tspan><tspan x="791.18 799.59 808.37 812.25 820.67" dy="0.6">10.1%</tspan></text>
<text class="n" x="805.5" y="487.9" text-anchor="middle">Ill.</text>
<text class="v w b" y="521.9"><tspan class="sp" x="708.9" dy="1.1">+</tspan><tspan x="723.44 732.52 741.60 746.08 755.16" dy="-1.1">27.6%</tspan></text>
<text class="n w b" x="739.1" y="534.9" text-anchor="middle">Mo.</text>
<text class="v" y="521.9"><tspan class="sp" x="886.8" dy="1.1">+</tspan><tspan x="900.62 909.03 917.81 921.99 930.77" dy="-1.1">12.9%</tspan></text>
<text class="n" x="916.1" y="534.9" text-anchor="middle">Ky.</text>
<text class="v" x="944.3" y="487.9" textLength="80.0" lengthAdjust="spacing">No change</text>
<text class="n" x="984.8" y="500.4" text-anchor="middle">W.Va.</text>
<text class="v" x="831.1" y="577.9" textLength="80.5" lengthAdjust="spacing">No change</text>
<text class="n" x="871.2" y="590.6" text-anchor="middle">Tenn.</text>
<text class="v" y="616.2"><tspan class="sp" x="715.9" dy="1.1">+</tspan><tspan x="730.17 739.08 743.40 752.31" dy="-1.1">6.7%</tspan></text>
<text class="n" x="741.3" y="629.3" text-anchor="middle">Ark.</text>
<text class="v" y="412.0"><tspan class="sm" x="1021.5" dy="-0.6">−</tspan><tspan x="1032.57 1040.98 1045.16 1053.94" dy="0.6">1.5%</tspan></text>
<text class="n" x="1042.2" y="425.0" text-anchor="middle">Pa.</text>
<text class="v" y="499.9"><tspan class="sm" x="1027.3" dy="-0.6">−</tspan><tspan x="1039.67 1048.75 1053.23 1062.31" dy="0.6">6.6%</tspan></text>
<text class="n" x="1050.3" y="513.7" text-anchor="middle">Va.</text>
<text class="v" y="562.3"><tspan class="sp" x="1032.9" dy="1.1">+</tspan><tspan x="1046.54 1054.95 1063.73 1067.91 1076.69" dy="-1.1">14.7%</tspan></text>
<text class="n" x="1061.3" y="575.6" text-anchor="middle">N.C.</text>
<text class="v" y="616.2"><tspan class="sp" x="982.1" dy="1.1">+</tspan><tspan x="995.81 1004.22 1013.00 1017.18 1025.96" dy="-1.1">12.4%</tspan></text>
<text class="n" x="1010.7" y="629.0" text-anchor="middle">S.C.</text>
<text class="v" y="445.5"><tspan class="sm" x="1137.2" dy="-0.6">−</tspan><tspan x="1149.53 1158.30 1162.49 1171.27" dy="0.6">7.6%</tspan></text>
<text class="n" x="1159.9" y="458.7" text-anchor="middle">N.J.</text>
<text class="v" y="486.2"><tspan class="sm" x="1110.2" dy="-0.6">−</tspan><tspan x="1122.58 1131.78 1140.99 1145.60 1154.81" dy="0.6">28.6%</tspan></text>
<text class="n" x="1138.4" y="498.7" text-anchor="middle">Del.</text>
<text class="v" y="527.4"><tspan class="sp" x="1113.5" dy="1.1">+</tspan><tspan x="1127.94 1137.43 1142.32 1151.81" dy="-1.1">5.3%</tspan></text>
<text class="n" x="1139.4" y="541.0" text-anchor="middle">Md.</text>
<text class="v" y="404.8"><tspan class="sm" x="1143.2" dy="-0.6">−</tspan><tspan x="1156.04 1165.48 1174.92 1179.77 1189.21" dy="0.6">40.9%</tspan></text>
<text class="n" x="1172.0" y="417.4" text-anchor="middle">Conn.</text>
<text class="v" y="234.1"><tspan class="sp" x="1106.8" dy="1.1">+</tspan><tspan x="1120.13 1128.54 1137.32 1141.50 1150.28" dy="-1.1">16.7%</tspan></text>
<text class="n" x="1134.6" y="246.9" text-anchor="middle">N.H.</text>
<text class="v" x="1142.1" y="245.0" textLength="78.7" lengthAdjust="spacing">No change</text>
<text class="n" x="1181.2" y="257.5" text-anchor="middle">Maine</text>
<text class="v" x="1058.4" y="255.5" textLength="79.5" lengthAdjust="spacing">No change</text>
<text class="n" x="1097.8" y="268.7" text-anchor="middle">Vt.</text>
<text class="v" y="322.4"><tspan class="sp" x="1184.2" dy="1.1">+</tspan><tspan x="1197.73 1206.51 1210.39 1218.81" dy="-1.1">8.1%</tspan></text>
<text class="n" x="1207.3" y="335.6" text-anchor="middle">Mass.</text>
<text class="v" y="374.9"><tspan class="sp" x="1182.2" dy="1.1">+</tspan><tspan x="1196.67 1205.96 1215.24 1219.93 1229.21" dy="-1.1">33.3%</tspan></text>
<text class="n" x="1212.7" y="387.9" text-anchor="middle">R.I.</text>
<text class="v" y="347.4"><tspan class="sm" x="1062.2" dy="-0.6">−</tspan><tspan x="1072.88 1080.99 1089.41 1093.59 1102.37" dy="0.6">11.4%</tspan></text>
<text class="n" x="1087.2" y="360.4" text-anchor="middle">N.Y.</text>
<text class="v" y="435.0"><tspan class="sp" x="191.3" dy="1.1">+</tspan><tspan x="205.15 213.69 222.59 226.90 235.81" dy="-1.1">10.9%</tspan></text>
<text class="n" x="220.1" y="448.2" text-anchor="middle">Nev.</text>
<text class="v" y="468.7"><tspan class="sm" x="301.1" dy="-0.6">−</tspan><tspan x="313.05 321.46 330.24 334.43 343.21" dy="0.6">10.3%</tspan></text>
<text class="n" x="328.0" y="481.7" text-anchor="middle">Utah</text>
<text class="v" y="518.6"><tspan class="sp" x="127.6" dy="1.1">+</tspan><tspan x="141.20 149.98 153.86 162.28" dy="-1.1">8.1%</tspan></text>
<text class="n" x="151.7" y="531.6" text-anchor="middle">Calif.</text>
<text class="v w b" y="486.9"><tspan class="sp" x="418.9" dy="1.1">+</tspan><tspan x="433.64 443.36 453.08 462.81 467.94 477.66" dy="-1.1">360.0%</tspan></text>
<text class="n w b" x="455.1" y="499.4" text-anchor="middle">Colo.</text>
<text class="v" y="509.1"><tspan class="sm" x="584.7" dy="-0.6">−</tspan><tspan x="596.65 605.11 613.94 618.18 627.01" dy="0.6">15.4%</tspan></text>
<text class="n" x="612.0" y="521.9" text-anchor="middle">Kan.</text>
<text class="v" y="597.5"><tspan class="sp" x="278.0" dy="1.1">+</tspan><tspan x="292.47 301.75 306.43 315.71" dy="-1.1">3.6%</tspan></text>
<text class="n" x="304.2" y="610.7" text-anchor="middle">Ariz.</text>
<text class="v" y="762.3"><tspan class="sm" x="174.2" dy="-0.6">−</tspan><tspan x="186.77 196.11 205.44 210.18 219.51" dy="0.6">33.3%</tspan></text>
<text class="n" x="202.4" y="775.3" text-anchor="middle">Alaska</text>
<text class="v" y="610.0"><tspan class="sm" x="409.8" dy="-0.6">−</tspan><tspan x="422.18 431.18 435.60 444.61" dy="0.6">6.7%</tspan></text>
<text class="n" x="433.1" y="623.7" text-anchor="middle">N.M.</text>
<text class="v" y="596.2"><tspan class="sp" x="605.0" dy="1.1">+</tspan><tspan x="619.27 628.91 638.54 643.58 653.21" dy="-1.1">20.0%</tspan></text>
<text class="n" x="635.6" y="609.5" text-anchor="middle">Okla.</text>
<text class="v" y="724.0"><tspan class="sp" x="575.8" dy="1.1">+</tspan><tspan x="589.12 597.53 601.71 610.49" dy="-1.1">1.7%</tspan></text>
<text class="n" x="599.1" y="736.8" text-anchor="middle">Texas</text>
<text class="v" x="768.7" y="665.9" textLength="80.0" lengthAdjust="spacing">No change</text>
<text class="n" x="808.7" y="678.9" text-anchor="middle">Miss.</text>
<text class="v" y="658.4"><tspan class="sp" x="850.1" dy="1.1">+</tspan><tspan x="862.33 870.74 879.52 883.40 891.82" dy="-1.1">18.1%</tspan></text>
<text class="n" x="876.9" y="672.2" text-anchor="middle">Ala.</text>
<text class="v w b" y="662.9"><tspan class="sp" x="927.5" dy="1.1">+</tspan><tspan x="942.24 951.42 960.59 965.18 974.36" dy="-1.1">35.0%</tspan></text>
<text class="n w b" x="957.3" y="675.9" text-anchor="middle">Ga.</text>
<text class="v" y="705.8"><tspan class="sp" x="717.6" dy="1.1">+</tspan><tspan x="731.88 741.55 746.63 756.31" dy="-1.1">2.0%</tspan></text>
<text class="n" x="744.2" y="719.3" text-anchor="middle">La.</text>
<text class="v" y="786.2"><tspan class="sp" x="991.9" dy="1.1">+</tspan><tspan x="1006.17 1015.58 1020.40 1029.81" dy="-1.1">6.6%</tspan></text>
<text class="n" x="1018.2" y="799.2" text-anchor="middle">Fla.</text>
<text class="v" y="834.9"><tspan class="sm" x="1108.9" dy="-0.6">−</tspan><tspan x="1120.26 1128.67 1137.45 1141.63 1150.41" dy="0.6">16.7%</tspan></text>
<text class="n" x="1135.3" y="847.9" text-anchor="middle">P.R.</text>
<text class="v" x="335.0" y="834.9" textLength="80.0" lengthAdjust="spacing">No change</text>
<text class="n" x="374.5" y="847.6" text-anchor="middle">Hawaii</text>
<rect x="737.4" y="830.4" width="11.3" height="11.3" fill="#fff3c9"/>
<text class="t" x="751.7" y="839.9">GU</text>
<rect x="786.9" y="830.4" width="11.3" height="11.3" fill="#f6a18e"/>
<text class="t" x="801.6" y="839.9">MP</text>
<rect x="836.9" y="830.4" width="11.3" height="11.3" fill="#efefef"/>
<text class="t" x="851.6" y="839.9">AS</text>
<rect x="887.3" y="830.4" width="11.3" height="11.3" fill="#999999"/>
<text class="t" x="901.1" y="839.9">VI</text>
<rect x="1145.4" y="578.6" width="11.3" height="11.3" fill="#c8c8c8"/>
<text class="t" x="1160.9" y="588.1">DC</text>
<rect x="1103.5" y="810.5" width="122" height="64.5" fill="none" stroke="#222" stroke-width="1"/>
</g>
</svg>
</body></html>
